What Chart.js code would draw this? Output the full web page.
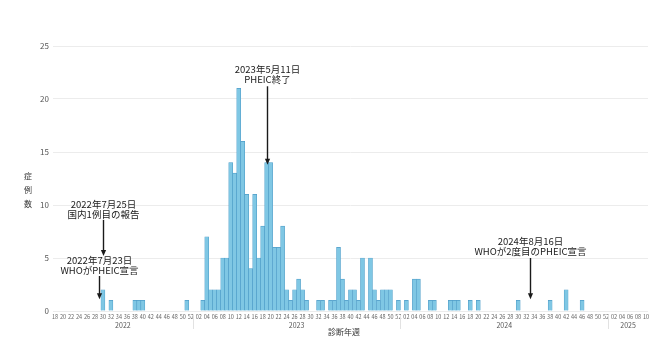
<!DOCTYPE html>
<html lang="ja">
<head>
<meta charset="utf-8">
<title>診断週別症例数</title>
<script src="https://cdn.jsdelivr.net/npm/chart.js@4.4.1/dist/chart.umd.min.js"></script>
<style>
  html, body { margin: 0; padding: 0; background: #fff; }
  #wrap { width: 665px; height: 349px; }
</style>
</head>
<body>
<div id="wrap"><canvas id="weeklyChart"></canvas></div>
<script>
// 診断週ごとの症例数（2022年第18週〜2025年第10週）
const years = [2022, 2023, 2024, 2025];
const firstWeeks = [18, 1, 1, 1];

const cases2022 = [
  0, 0, 0, 0, 0, 0, 0, 0, 0, 0,   // 18-27
  0, 0, 2, 0, 1, 0, 0, 0, 0, 0,   // 28-37
  1, 1, 1, 0, 0, 0, 0, 0, 0, 0,   // 38-47
  0, 0, 0, 1, 0                   // 48-52
];
const cases2023 = [
  0, 0, 1, 7, 2, 2, 2, 5, 5, 14,       // 1-10
  13, 21, 16, 11, 4, 11, 5, 8, 14, 14, // 11-20
  6, 6, 8, 2, 1, 2, 3, 2, 1, 0,        // 21-30
  0, 1, 1, 0, 1, 1, 6, 3, 1, 2,        // 31-40
  2, 1, 5, 0, 5, 2, 1, 2, 2, 2,        // 41-50
  0, 1                                 // 51-52
];
const cases2024 = [
  0, 1, 0, 3, 3, 0, 0, 1, 1, 0,   // 1-10
  0, 0, 1, 1, 1, 0, 0, 1, 0, 1,   // 11-20
  0, 0, 0, 0, 0, 0, 0, 0, 0, 1,   // 21-30
  0, 0, 0, 0, 0, 0, 0, 1, 0, 0,   // 31-40
  0, 2, 0, 0, 0, 1, 0, 0, 0, 0,   // 41-50
  0, 0                            // 51-52
];
const cases2025 = [0, 0, 0, 0, 0, 0, 0, 0, 0, 0]; // 1-10

const yearCases = [cases2022, cases2023, cases2024, cases2025];
const yTicks = [0, 5, 10, 15, 20, 25];

// 注記（矢印の位置は症例数の目盛りで指定）
const notes = [
  { year: 2022, week: 30, lines: ['2022年7月25日', '国内1例目の報告'], textY: 10.1, from: 8.6, to: 5.2 },
  { year: 2022, week: 29, lines: ['2022年7月23日', 'WHOがPHEIC宣言'], textY: 4.8, from: 3.3, to: 1.1 },
  { year: 2023, week: 19, lines: ['2023年5月11日', 'PHEIC終了'], textY: 22.8, from: 21.2, to: 13.8 },
  { year: 2024, week: 33, lines: ['2024年8月16日', 'WHOが2度目のPHEIC宣言'], textY: 6.6, from: 5.0, to: 1.1 }
];

const weekLabels = [];
years.forEach((yr, k) => {
  yearCases[k].forEach((_, i) => {
    weekLabels.push(String(firstWeeks[k] + i).padStart(2, '0'));
  });
});
const counts = [].concat(...yearCases);

function indexOf(year, week) {
  let idx = 0;
  for (let k = 0; k < years.length; k++) {
    if (years[k] === year) return idx + week - firstWeeks[k];
    idx += yearCases[k].length;
  }
  return -1;
}

const FONT = '"Noto Sans CJK JP", "Noto Sans", sans-serif';

function drawArrow(ctx, x, y0, y1) {
  ctx.beginPath();
  ctx.moveTo(x, y0);
  ctx.lineTo(x, y1 - 5);
  ctx.stroke();
  ctx.beginPath();
  ctx.moveTo(x - 2.6, y1 - 6);
  ctx.lineTo(x + 2.6, y1 - 6);
  ctx.lineTo(x, y1);
  ctx.closePath();
  ctx.fill();
}

const extras = {
  id: 'extras',
  afterDraw(chart) {
    const { ctx, chartArea, scales: { x, y } } = chart;
    const step = x.getPixelForValue(1) - x.getPixelForValue(0);
    ctx.save();

    // 年ラベルと年の区切り線
    ctx.font = '7px ' + FONT;
    ctx.fillStyle = '#555';
    ctx.textAlign = 'center';
    ctx.textBaseline = 'middle';
    ctx.strokeStyle = '#e2e2e2';
    ctx.lineWidth = 1;
    let start = 0;
    years.forEach((yr, k) => {
      const n = yearCases[k].length;
      const mid = (x.getPixelForValue(start) + x.getPixelForValue(start + n - 1)) / 2;
      ctx.fillText(String(yr), mid, chartArea.bottom + 14.5);
      if (k > 0) {
        const sx = Math.round(x.getPixelForValue(start) - step / 2) + 0.5;
        ctx.beginPath();
        ctx.moveTo(sx, chartArea.bottom + 4);
        ctx.lineTo(sx, chartArea.bottom + 18);
        ctx.stroke();
      }
      start += n;
    });

    // 軸タイトル
    ctx.fillStyle = '#333';
    ctx.font = '8px ' + FONT;
    ctx.fillText('診断年週', 344, chartArea.bottom + 20.5);
    ['症', '例', '数'].forEach((ch, i) => {
      ctx.fillText(ch, 28, 176 + i * 14);
    });

    // 注記と矢印
    ctx.fillStyle = '#1a1a1a';
    ctx.strokeStyle = '#1a1a1a';
    ctx.lineWidth = 1.4;
    ctx.font = '9.5px ' + FONT;
    notes.forEach(n => {
      const px = Math.round(x.getPixelForValue(indexOf(n.year, n.week))) + 0.5;
      const ty = y.getPixelForValue(n.textY);
      n.lines.forEach((line, i) => ctx.fillText(line, px, ty + i * 10));
      drawArrow(ctx, px, y.getPixelForValue(n.from), y.getPixelForValue(n.to));
    });
    ctx.restore();
  }
};

new Chart(document.getElementById('weeklyChart'), {
  type: 'bar',
  data: {
    labels: weekLabels,
    datasets: [{
      label: '症例数',
      data: counts,
      backgroundColor: '#7fc7e4',
      borderColor: '#4f9dc8',
      borderWidth: 0.6,
      barPercentage: 1,
      categoryPercentage: 1
    }]
  },
  options: {
    responsive: true,
    maintainAspectRatio: false,
    animation: false,
    layout: { padding: { top: 46, right: 17, left: 0, bottom: 0 } },
    plugins: {
      legend: { display: false },
      tooltip: { enabled: false }
    },
    scales: {
      x: {
        grid: { display: false, drawTicks: false },
        border: { display: false },
        ticks: {
          autoSkip: false,
          maxRotation: 0,
          minRotation: 0,
          padding: 3,
          color: '#666',
          font: { size: 5.5, family: FONT },
          callback: (v, i) => (Number(weekLabels[i]) % 2 === 0 ? weekLabels[i] : '')
        },
        afterFit: s => { s.height = 38; }
      },
      y: {
        min: 0,
        max: 25,
        afterBuildTicks: s => { s.ticks = yTicks.map(v => ({ value: v })); },
        grid: { color: '#ececec', drawTicks: false },
        border: { display: false },
        ticks: { padding: 4, color: '#555', font: { size: 8, family: FONT } },
        afterFit: s => { s.width = 53; }
      }
    }
  },
  plugins: [extras]
});
</script>
</body>
</html>
